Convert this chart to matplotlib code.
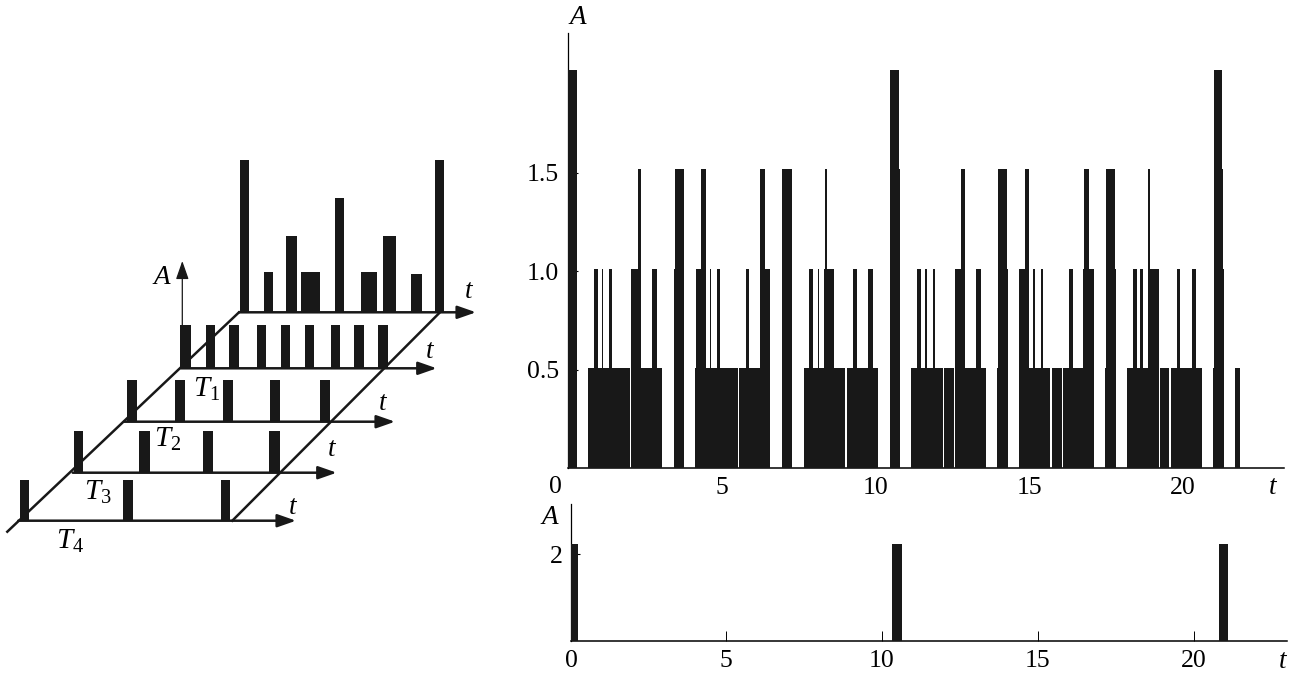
import matplotlib
matplotlib.use('Agg')
import matplotlib.pyplot as plt

plt.rcParams['font.family'] = ['Liberation Serif', 'DejaVu Serif']
plt.rcParams['mathtext.fontset'] = 'custom'
plt.rcParams['mathtext.rm'] = 'Liberation Serif'
plt.rcParams['mathtext.it'] = 'Liberation Serif:italic'

W, H = 1291, 675
BLACK = '#181818'
FS = 18.5

# big panel: pulses as (start, end) in t, one list per amplitude level
level_05 = [(0, 0.28), (0.65, 2.01), (2.05, 3.07), (3.45, 3.77), (4.14, 5.53), (5.56, 6.58),
            (6.95, 7.28), (7.69, 9.02), (9.07, 10.09), (10.46, 10.81), (11.17, 12.18),
            (12.23, 12.55), (12.59, 13.60), (13.95, 14.31), (14.68, 15.69), (15.73, 16.05),
            (16.10, 17.12), (17.46, 17.82), (18.19, 19.22), (19.25, 19.54), (19.61, 20.63),
            (20.98, 21.32), (21.70, 21.84)]
level_10 = [(0.83, 0.99), (1.11, 1.14), (1.33, 1.43), (2.05, 2.36), (2.74, 2.88), (3.45, 3.76),
            (4.16, 4.49), (4.62, 4.65), (4.86, 4.95), (5.78, 5.89), (6.25, 6.58), (6.95, 7.28),
            (7.83, 7.98), (8.12, 8.16), (8.34, 8.66), (9.28, 9.40), (9.77, 9.91), (10.46, 10.81),
            (11.35, 11.49), (11.61, 11.66), (11.87, 11.93), (12.59, 12.91), (13.28, 13.42),
            (13.97, 14.31), (14.68, 15.00), (15.13, 15.19), (15.37, 15.45), (16.28, 16.42),
            (16.76, 17.12), (17.49, 17.82), (18.37, 18.51), (18.60, 18.70), (18.91, 19.21),
            (19.79, 19.91), (20.30, 20.43), (21.00, 21.32)]
level_15 = [(2.28, 2.36), (3.47, 3.76), (4.31, 4.49), (6.25, 6.41), (6.95, 7.28), (8.37, 8.42),
            (10.46, 10.81), (12.79, 12.91), (13.97, 14.28), (14.85, 15.00), (16.79, 16.94),
            (17.49, 17.79), (18.87, 18.94), (21.00, 21.30)]
level_20 = [(0, 0.28), (10.46, 10.76), (21.00, 21.27)]
levels = [(0.51, level_05), (1.01, level_10), (1.52, level_15), (2.02, level_20)]
main_yticks = [0.5, 1.0, 1.5]
main_ylabels = ['0.5', '1.0', '1.5']
xticks = [5, 10, 15, 20]

# small panel
low_pulses = [(0.05, 0.25), (10.34, 10.64), (20.81, 21.10)]
low_height = 2.23

# left sketch: rows from back to front, t start / width / amplitude of each pulse
row0_t = [0.11, 2.68, 5.07, 6.68, 10.25, 13.07, 15.46, 18.43, 21.04]
row0_w = [0.96, 1.0, 1.18, 1.96, 1.0, 1.75, 1.32, 1.18, 0.96]
row0_a = [2.0, 0.53, 1.0, 0.53, 1.5, 0.53, 1.0, 0.5, 2.0]
row1_t = [-0.11, 2.71, 5.18, 8.11, 10.71, 13.29, 16.11, 18.54, 21.11]
row1_w = [1.21, 0.96, 1.07, 0.96, 0.96, 0.96, 0.96, 1.11, 1.11]
row2_t = [0.32, 5.43, 10.64, 15.64, 21.0]
row2_w = [1.04, 1.11, 1.07, 1.07, 1.07]
row3_t = [0.14, 7.14, 13.93, 21.07]
row3_w = [0.96, 1.14, 1.14, 1.14]
row4_t = [0.18, 11.18, 21.71]
row4_w = [1.0, 1.14, 0.96]
row1_a = 0.57
row2_a = 0.55
row3_a = 0.55
row4_a = 0.54


def pixel_axes(left, right, top, bottom):
    return fig.add_axes([left / W, 1 - bottom / H, (right - left) / W, (bottom - top) / H])


fig = plt.figure(figsize=(W / 100, H / 100), dpi=100, facecolor='white')

# big panel
ax = pixel_axes(568, 1284, 33, 468.3)
ax.set_xlim(0, 716 / 30.75)
ax.set_ylim(0, 435.3 / 197)
for height, pulses in levels:
    ax.bar([p[0] for p in pulses], height, [p[1] - p[0] for p in pulses], align='edge',
           color=BLACK, linewidth=0, zorder=3)
ax.spines['top'].set_visible(False)
ax.spines['right'].set_visible(False)
ax.spines['left'].set_linewidth(0.9)
ax.spines['bottom'].set_linewidth(1.1)
ax.set_yticks(main_yticks, main_ylabels, fontsize=FS)
ax.set_xticks(xticks, [str(v) for v in xticks], fontsize=FS)
ax.tick_params(axis='y', direction='in', length=7, width=0.8, pad=6.5)
ax.tick_params(axis='x', length=0, pad=6)

# small panel
ax2 = pixel_axes(571.3, 1287, 504, 640.7)
ax2.set_xlim(0.05, 0.05 + 715.7 / 31.2)
ax2.set_ylim(0, 136.7 / 43.3)
ax2.bar([p[0] for p in low_pulses], low_height, [p[1] - p[0] for p in low_pulses], align='edge',
        color=BLACK, linewidth=0, zorder=3)
ax2.spines['top'].set_visible(False)
ax2.spines['right'].set_visible(False)
ax2.spines['left'].set_linewidth(0.9)
ax2.spines['bottom'].set_linewidth(1.1)
ax2.set_yticks([2], ['2'], fontsize=FS)
ax2.set_xticks(xticks, [str(v) for v in xticks], fontsize=FS)
ax2.tick_params(axis='y', direction='in', length=6.5, width=0.8, pad=6.5)
ax2.tick_params(axis='x', direction='in', length=7, width=0.7, pad=7)

# left sketch, drawn in figure pixels
ax0 = fig.add_axes([0, 0, 1, 1], zorder=5)
ax0.set_xlim(0, W)
ax0.set_ylim(H, 0)
ax0.axis('off')
ax0.patch.set_alpha(0)

t_px = 28 / 3
a_px = 76
rows = [(239, 312.3, 476, row0_t, row0_w, row0_a),
        (181, 368.3, 436.7, row1_t, row1_w, [row1_a] * len(row1_t)),
        (124, 421.7, 395, row2_t, row2_w, [row2_a] * len(row2_t)),
        (72.7, 472.7, 336.7, row3_t, row3_w, [row3_a] * len(row3_t)),
        (18.3, 520.7, 296, row4_t, row4_w, [row4_a] * len(row4_t))]
arrow = dict(arrowstyle='-|>,head_length=0.8,head_width=0.28', color=BLACK, shrinkA=0, shrinkB=0)
for x0, y0, x1, ts, ws, amps in rows:
    ax0.bar([x0 + t * t_px for t in ts], [-a * a_px for a in amps], [w * t_px for w in ws],
            bottom=y0, align='edge', color=BLACK, linewidth=0)
    ax0.annotate('', xy=(x1, y0), xytext=(x0, y0), arrowprops=dict(arrow, lw=1.8, mutation_scale=14))

ax0.plot([7.3, 239], [531.7, 312.3], color=BLACK, lw=1.8)
ax0.plot([232.3, 440], [520.7, 312.3], color=BLACK, lw=1.8)
ax0.annotate('', xy=(182.3, 261), xytext=(182.3, 327), arrowprops=dict(arrow, lw=0.9, mutation_scale=14))

# labels
ital = dict(style='italic', ha='center', va='center', fontsize=19.5, color='black')
for x, y in [(162, 278), (578, 18), (550, 517)]:
    ax0.text(x, y, 'A', **ital)
for x, y in [(469, 292), (430, 351), (383, 403), (332, 450), (293, 507), (1273, 488), (1283, 661)]:
    ax0.text(x, y, 't', **ital)
for i, (x, y) in enumerate([(207, 389), (168, 439), (98, 492), (70, 541)]):
    ax0.text(x, y, r'$\mathit{T}_{\mathrm{%d}}$' % (i + 1), ha='center', va='center', fontsize=21)
ax0.text(555, 487, '0', ha='center', va='center', fontsize=FS)
ax0.text(571.7, 661, '0', ha='center', va='center', fontsize=FS)

fig.savefig('out.png', dpi=100, facecolor='white')
